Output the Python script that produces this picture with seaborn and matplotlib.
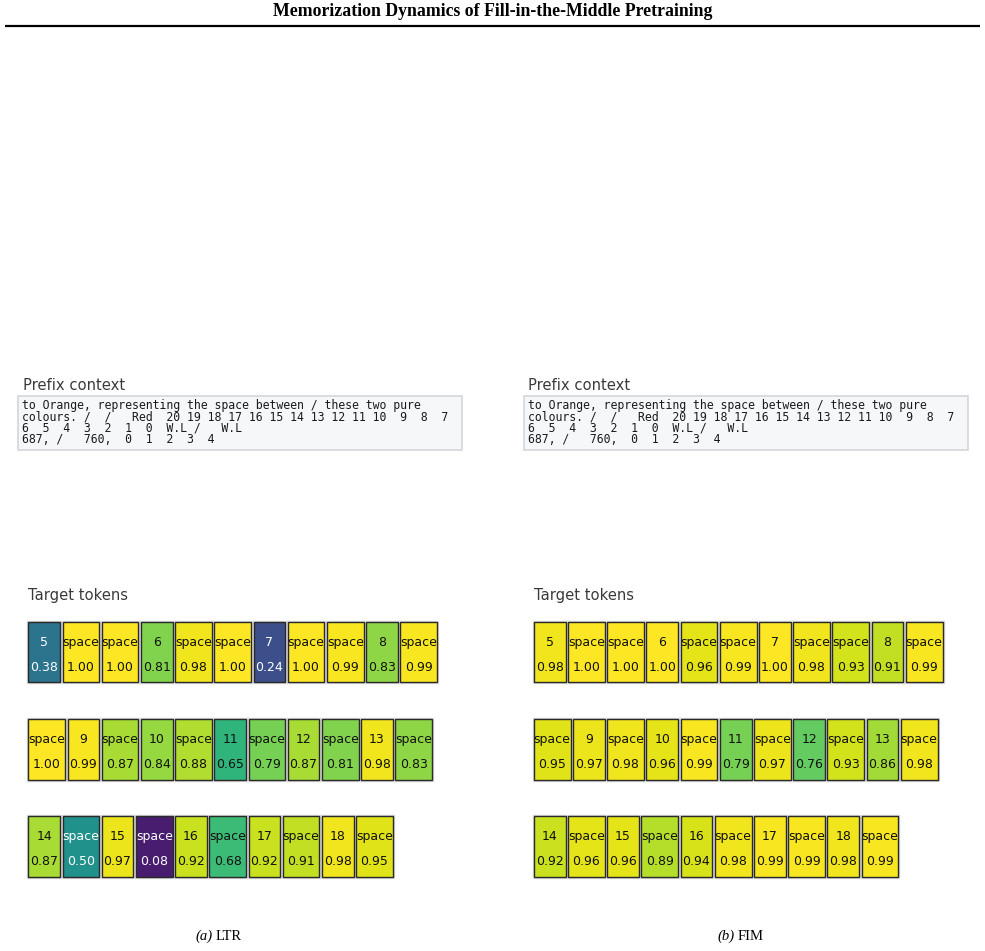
import numpy as np
import matplotlib
matplotlib.use("Agg")
import matplotlib.pyplot as plt
import seaborn as sns

# ---------------- data ----------------
title = "Memorization Dynamics of Fill-in-the-Middle Pretraining"
prefix_lines = [
    "to Orange, representing the space between / these two pure",
    "colours. /  /   Red  20 19 18 17 16 15 14 13 12 11 10  9  8  7",
    "6  5  4  3  2  1  0  W.L /   W.L",
    "687, /   760,  0  1  2  3  4",
]
row1_tokens = ["5", "space", "space", "6", "space", "space", "7", "space", "space", "8", "space"]
row2_tokens = ["space", "9", "space", "10", "space", "11", "space", "12", "space", "13", "space"]
row3_tokens = ["14", "space", "15", "space", "16", "space", "17", "space", "18", "space"]

ltr_row1 = [0.38, 1.00, 1.00, 0.81, 0.98, 1.00, 0.24, 1.00, 0.99, 0.83, 0.99]
ltr_row2 = [1.00, 0.99, 0.87, 0.84, 0.88, 0.65, 0.79, 0.87, 0.81, 0.98, 0.83]
ltr_row3 = [0.87, 0.50, 0.97, 0.08, 0.92, 0.68, 0.92, 0.91, 0.98, 0.95]

fim_row1 = [0.98, 1.00, 1.00, 1.00, 0.96, 0.99, 1.00, 0.98, 0.93, 0.91, 0.99]
fim_row2 = [0.95, 0.97, 0.98, 0.96, 0.99, 0.79, 0.97, 0.76, 0.93, 0.86, 0.98]
fim_row3 = [0.92, 0.96, 0.96, 0.89, 0.94, 0.98, 0.99, 0.99, 0.98, 0.99]

panel_tags = ["(a)", "(b)"]
panel_names = ["LTR", "FIM"]

# ---------------- style ----------------
sns.set_theme(style="white")
plt.rcParams["font.family"] = ["DejaVu Sans"]
cmap = sns.color_palette("viridis", as_cmap=True)

W, H = 985, 951
fig = plt.figure(figsize=(W / 100, H / 100), dpi=100)
ax = fig.add_axes([0, 0, 1, 1])
ax.set_xlim(0, W)
ax.set_ylim(H, 0)
ax.axis("off")

# header
ax.text(W / 2, 12, title, ha="center", va="center", fontsize=12.8,
        fontweight="bold", family="Liberation Serif", color="black")
ax.plot([5, 980], [25.5, 25.5], color="black", lw=1.6, solid_capstyle="butt")

panels = [
    (ltr_row1, ltr_row2, ltr_row3),
    (fim_row1, fim_row2, fim_row3),
]
token_rows = [row1_tokens, row2_tokens, row3_tokens]

panel_dx = [0, 505.5]
num_w, space_w, gap = 31.7, 36.7, 2.5
box_h = 60.5
row_tops = [621.7, 719.0, 816.0]
lab_color = "#3a3a3a"

for p, (rows, dx) in enumerate(zip(panels, panel_dx)):
    # prefix context
    ax.text(23 + dx, 385, "Prefix context", ha="left", va="center",
            fontsize=10.6, color=lab_color)
    ax.add_patch(plt.Rectangle((18 + dx, 396), 444, 53.5, facecolor="#f6f7f9",
                               edgecolor="#d3d6db", lw=1.2))
    ax.text(22.5 + dx, 399.0, "\n".join(prefix_lines), ha="left", va="top",
            fontsize=8.3, family="DejaVu Sans Mono", color="#1a1a1a",
            linespacing=0.82)

    # target tokens
    ax.text(28 + dx, 595.5, "Target tokens", ha="left", va="center",
            fontsize=10.6, color=lab_color)
    for r, (toks, vals) in enumerate(zip(token_rows, rows)):
        widths = np.array([space_w if t == "space" else num_w for t in toks])
        lefts = 28.3 + dx + np.concatenate([[0], np.cumsum(widths + gap)[:-1]])
        cols = [cmap(v) for v in vals]
        top = row_tops[r]
        ax.bar(lefts, box_h, width=widths, bottom=top, align="edge",
               color=cols, edgecolor="#d8d8d8", linewidth=2.4, zorder=2)
        ax.bar(lefts, box_h, width=widths, bottom=top, align="edge",
               color=cols, edgecolor="#2a2a2a", linewidth=1.0, zorder=3)
        for x0, w, t, v in zip(lefts, widths, toks, vals):
            tc = "white" if v < 0.55 else "#111111"
            ax.text(x0 + w / 2, top + 20.8, t, ha="center", va="center",
                    fontsize=9.0, color=tc, zorder=4)
            ax.text(x0 + w / 2, top + 45.8, f"{v:.2f}", ha="center", va="center",
                    fontsize=9.0, color=tc, zorder=4)

# captions
cap_starts = [195.5, 717.5]
for tag, name, xs in zip(panel_tags, panel_names, cap_starts):
    ax.text(xs, 936, tag, ha="left", va="center", fontsize=10.5,
            family="Liberation Serif", style="italic", color="black")
    ax.text(xs + 20.6, 936, name, ha="left", va="center", fontsize=10.5,
            family="Liberation Serif", color="black")

fig.savefig("out.png", dpi=100, facecolor="white")
